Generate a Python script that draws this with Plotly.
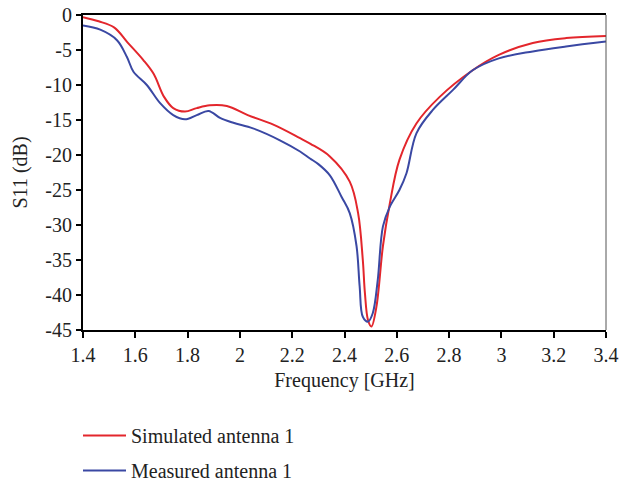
import plotly.graph_objects as go

# Simulated antenna 1 (red)
sim_f = [1.40, 1.46, 1.52, 1.57, 1.63, 1.67, 1.71, 1.745, 1.79, 1.835, 1.885, 1.95, 2.03, 2.13, 2.23, 2.27,
         2.344, 2.42, 2.452, 2.47, 2.478, 2.49, 2.503, 2.522, 2.547, 2.573, 2.61, 2.675, 2.764, 2.89, 2.99,
         3.12, 3.247, 3.40]
sim_s = [-0.3, -0.9, -1.8, -3.9, -6.4, -8.4, -11.7, -13.3, -13.8, -13.3, -12.9, -13.0, -14.3, -15.7, -17.6, -18.4,
         -20.2, -23.8, -28.3, -35.0, -39.7, -43.6, -44.5, -41.7, -33.0, -27.0, -20.7, -15.5, -11.7, -7.9, -5.7,
         -4.0, -3.3, -3.0]

# Measured antenna 1 (blue)
mea_f = [1.40, 1.466, 1.53, 1.568, 1.593, 1.644, 1.695, 1.745, 1.79, 1.835, 1.88, 1.924, 1.975, 2.05, 2.153,
         2.23, 2.268, 2.30, 2.344, 2.389, 2.42, 2.446, 2.458, 2.47, 2.49, 2.508, 2.527, 2.547, 2.573, 2.61, 2.637,
         2.675, 2.737, 2.815, 2.89, 2.99, 3.12, 3.247, 3.40]
mea_s = [-1.5, -2.1, -3.6, -6.0, -8.1, -10.0, -12.6, -14.3, -14.9, -14.3, -13.7, -14.7, -15.4, -16.2, -17.9,
         -19.5, -20.5, -21.3, -22.9, -26.0, -28.3, -33.0, -38.8, -43.1, -43.8, -42.6, -37.9, -30.2, -27.4, -25.0,
         -22.6, -16.9, -13.6, -10.7, -7.9, -6.2, -5.2, -4.5, -3.8]

x_ticks = [1.4, 1.6, 1.8, 2.0, 2.2, 2.4, 2.6, 2.8, 3.0, 3.2, 3.4]
x_labels = ["1.4", "1.6", "1.8", "2", "2.2", "2.4", "2.6", "2.8", "3", "3.2", "3.4"]
y_ticks = [0, -5, -10, -15, -20, -25, -30, -35, -40, -45]
y_labels = ["0", "-5", "-10", "-15", "-20", "-25", "-30", "-35", "-40", "-45"]

FONT = "Liberation Serif, DejaVu Serif, Times New Roman, serif"
FS = 20

fig = go.Figure()
fig.add_trace(go.Scatter(x=sim_f, y=sim_s, mode="lines", name="Simulated antenna 1",
                         line=dict(color="#e3262c", width=2, shape="spline", smoothing=1.0),
                         legendgroup="a"))
fig.add_trace(go.Scatter(x=mea_f, y=mea_s, mode="lines", name="Measured antenna 1",
                         line=dict(color="#3a48a3", width=2, shape="spline", smoothing=1.0),
                         legendgroup="b"))

fig.update_layout(
    width=619, height=481,
    margin=dict(l=83, r=13, t=15, b=151, autoexpand=False),
    paper_bgcolor="white", plot_bgcolor="white",
    font=dict(family=FONT, size=FS, color="#222"),
    legend=dict(xref="container", yref="container", x=78 / 619, y=1 - 416 / 481,
                xanchor="left", yanchor="top",
                font=dict(family=FONT, size=FS, color="#222"), itemwidth=43,
                traceorder="grouped", tracegroupgap=6, bgcolor="rgba(0,0,0,0)"),
    showlegend=True,
)
fig.update_xaxes(
    range=[1.4, 3.4], tickvals=x_ticks, ticktext=x_labels, automargin=False,
    showgrid=False, zeroline=False,
    showline=True, linecolor="black", linewidth=2, mirror=True,
    ticks="outside", ticklen=6, tickwidth=2, tickcolor="black",
    tickfont=dict(family=FONT, size=FS, color="#222"),
    title=dict(text="Frequency [GHz]", font=dict(family=FONT, size=FS), standoff=8),
)
fig.update_yaxes(
    range=[-45, 0], tickvals=y_ticks, ticktext=y_labels, automargin=False,
    showgrid=False, zeroline=False,
    showline=True, linecolor="black", linewidth=2, mirror=False,
    ticks="outside", ticklen=5, tickwidth=2, tickcolor="black",
    tickfont=dict(family=FONT, size=FS, color="#222"),
)
fig.add_annotation(text="S11 (dB)", textangle=-90, xref="paper", yref="paper",
                   x=(20 - 83) / 523, y=0.5, xanchor="center", yanchor="middle",
                   showarrow=False, font=dict(family=FONT, size=FS, color="#222"))
fig.add_shape(type="line", xref="paper", yref="paper", x0=1, x1=1, y0=0, y1=1,
              line=dict(color="#555", width=1))

fig.write_html("out.html")
